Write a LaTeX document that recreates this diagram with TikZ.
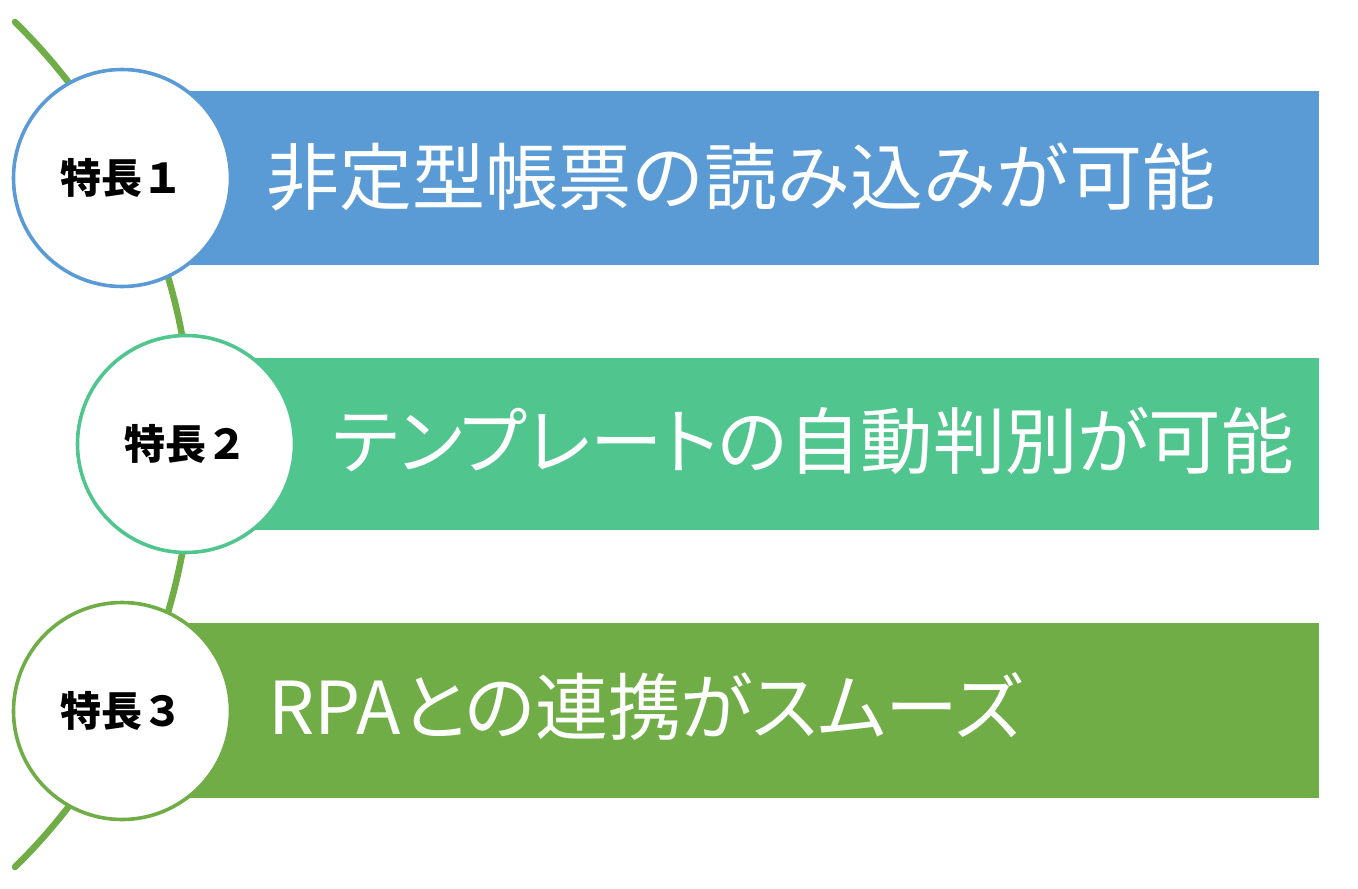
\documentclass[tikz,border=0pt]{standalone}
\usepackage{fontspec}
\newfontfamily\jp{Noto Sans CJK JP}
\newfontfamily\jpp[RawFeature=+palt]{Noto Sans CJK JP}
\definecolor{cblue}{HTML}{5B9BD5}
\definecolor{cteal}{HTML}{50C58E}
\definecolor{cgreen}{HTML}{70AD47}
\begin{document}
\begin{tikzpicture}[x=1pt,y=-1pt,
  badge/.style={circle, draw, line width=3.6pt, fill=white, minimum size=217pt, inner sep=0pt,
    font=\jp\bfseries\fontsize{41}{45}\selectfont},
  feat/.style={anchor=base west, inner sep=0pt, text=white, font=\jp\fontsize{73}{80}\selectfont},
  featp/.style={feat, font=\jpp\fontsize{73}{80}\selectfont}]
\useasboundingbox (0,0) rectangle (1358,889);
\coordinate (arcstart) at (15,22);
\draw[cgreen, line width=6.5pt, line cap=round] (arcstart) arc[start angle=-45.52, end angle=45.52, radius=592.2];
\fill[cblue] (122,91) rectangle (1319,265);
\fill[cteal] (186,358) rectangle (1319,530);
\fill[cgreen] (122,623) rectangle (1319,798);
\node[badge, draw=cblue] (c1) at (122,178) {特長１};
\node[badge, draw=cteal] (c2) at (186,444) {特長２};
\node[badge, draw=cgreen] (c3) at (122,711) {特長３};
\node[feat] (t1) at (266,204) {非定型帳票の読み込みが可能};
\node[featp, font=\jpp\fontsize{72.5}{80}\selectfont] (t2) at (332,468) {テンプレートの自動判別が可能};
\node[featp] (t3) at (268,734) {RPAとの連携がスムーズ};
\end{tikzpicture}
\end{document}
